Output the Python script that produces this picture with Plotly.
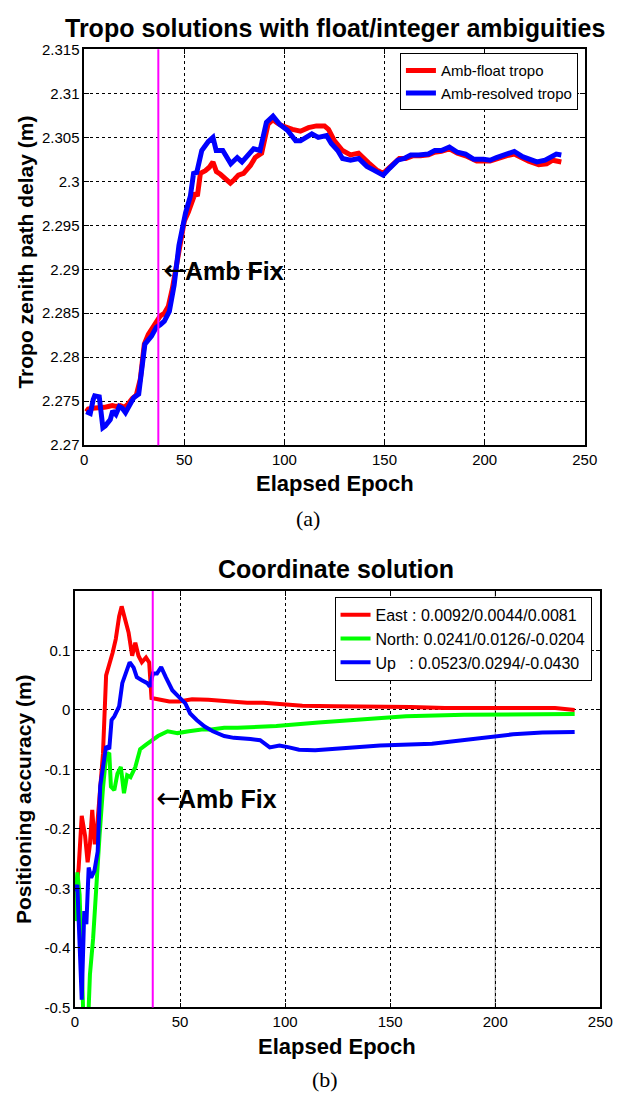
import plotly.graph_objects as go

# ---------------- data: (a) tropo ----------------
float_epoch = [1, 2, 4, 6, 8, 10, 12, 14, 16, 18, 20, 22, 24, 26, 28, 30, 32, 34, 36, 38, 40, 42, 44, 46, 48, 50,
               52, 54, 55.5, 56.5, 58, 60.5, 62.5, 64.3, 66, 68, 70, 73, 75, 77, 79.6, 83, 85.4, 88.6, 91.8, 94.3,
               96.5, 99, 104, 108, 112, 116, 120, 122, 125, 129, 133, 137, 142, 146, 149.3, 153.4, 157.4, 160.6,
               164, 168, 172, 175, 178.4, 182.4, 186.4, 190.5, 196, 202.7, 206, 210.8, 214.8, 219, 222, 227, 231,
               234, 236, 238.3]
float_tropo = [2.2738, 2.2741, 2.2742, 2.2742, 2.2742, 2.2743, 2.2744, 2.2745, 2.2744, 2.2745, 2.2743, 2.2747,
               2.2753, 2.2757, 2.2775, 2.2815, 2.2826, 2.2833, 2.2840, 2.2847, 2.2850, 2.2858, 2.2878, 2.2905,
               2.2935, 2.2955, 2.2965, 2.2980, 2.2987, 2.2983, 2.3009, 2.3012, 2.3016, 2.3022, 2.3011, 2.3008,
               2.3004, 2.2998, 2.3002, 2.3007, 2.3009, 2.3018, 2.3027, 2.3032, 2.3065, 2.3070, 2.3066, 2.3063,
               2.3059, 2.3057, 2.3061, 2.3063, 2.3063, 2.3059, 2.3046, 2.3035, 2.3030, 2.3032, 2.3021, 2.3013,
               2.3009, 2.3018, 2.3026, 2.3026, 2.3029, 2.3029, 2.3030, 2.3033, 2.3034, 2.3037, 2.3032, 2.3029,
               2.3023, 2.3023, 2.3026, 2.3029, 2.3031, 2.3026, 2.3023, 2.3019, 2.3020, 2.3024, 2.3023, 2.3022]

fixed_epoch = [1, 2, 3, 4.5, 5.2, 7.5, 8.5, 9.3, 10.5, 11.7, 13, 14.2, 15.8, 17.5, 19, 20.6, 22.5, 24.7, 27.2,
               28.5, 30.3, 33.6, 36, 38, 40, 42.5, 44.9, 47.3, 50.6, 53, 54.6, 56.2, 58.7, 61.9, 64.3, 65.9, 69.2,
               73.2, 76.4, 78.8, 82.1, 84.6, 87.8, 91, 94.3, 97.5, 101.5, 105.6, 108, 113.7, 116.9, 121, 123.4,
               126.6, 129, 133, 137.1, 141.2, 144.4, 149.3, 152.6, 156.6, 159.8, 163.1, 167.1, 171.9, 175.1, 178.4,
               182.4, 186.4, 190.5, 194.6, 199.4, 202.7, 205.9, 210.8, 214.8, 218.9, 222.1, 226.1, 230.2, 233.4,
               235.8, 238.3]
fixed_tropo = [2.2738, 2.2737, 2.2736, 2.2752, 2.2756, 2.2755, 2.2730, 2.2720, 2.2722, 2.2726, 2.2729, 2.2739,
               2.2735, 2.2744, 2.2742, 2.2737, 2.2744, 2.2754, 2.2758, 2.2780, 2.2815, 2.2824, 2.2834, 2.2837,
               2.2841, 2.2852, 2.2882, 2.2927, 2.2964, 2.2983, 2.3009, 2.3010, 2.3035, 2.3045, 2.3050, 2.3035,
               2.3035, 2.3020, 2.3027, 2.3022, 2.3030, 2.3037, 2.3035, 2.3067, 2.3074, 2.3065, 2.3058, 2.3046,
               2.3046, 2.3054, 2.3050, 2.3052, 2.3043, 2.3035, 2.3026, 2.3024, 2.3026, 2.3017, 2.3013, 2.3007,
               2.3015, 2.3024, 2.3026, 2.3030, 2.3030, 2.3031, 2.3035, 2.3035, 2.3039, 2.3033, 2.3031, 2.3025,
               2.3025, 2.3024, 2.3027, 2.3031, 2.3034, 2.3028, 2.3025, 2.3022, 2.3024, 2.3028, 2.3031, 2.3030]

# ---------------- data: (b) coordinates ----------------
east_epoch = [0, 1.7, 3.2, 4.8, 6, 7.1, 8.2, 9.4, 10.6, 11.7, 13.3, 14.8, 16.3, 17.9, 19.4, 21, 22.2, 24, 25.5,
              27.2, 28.7, 30.2, 31.8, 33.8, 35.3, 36.4, 40.3, 44.9, 49.5, 55.7, 63.4, 72.7, 81.9, 89.7, 100,
              108.2, 123.6, 145.2, 160, 176, 200.7, 228.5, 237.8]
east_err = [-0.316, -0.267, -0.178, -0.212, -0.256, -0.226, -0.168, -0.226, -0.193, -0.14, -0.074, 0.058, 0.074,
            0.096, 0.119, 0.157, 0.174, 0.147, 0.13, 0.091, 0.113, 0.091, 0.08, 0.088, 0.08, 0.02, 0.017, 0.014,
            0.014, 0.018, 0.017, 0.014, 0.012, 0.012, 0.010, 0.007, 0.006, 0.006, 0.005, 0.003, 0.003, 0.003, 0.0]

north_epoch = [0, 1.1, 2.2, 3.2, 4, 6.3, 7.1, 8.6, 10.2, 11.7, 13.3, 14.8, 16.3, 17.1, 18.7, 20.2, 21.8, 23.3,
               24.8, 26.4, 28.7, 31, 34, 36.4, 39.5, 44.1, 48.8, 54.2, 60.3, 64.8, 71, 77.3, 95.8, 115.9, 139,
               157.5, 185.3, 208.4, 237.8]
north_err = [-0.355, -0.273, -0.311, -0.46, -0.52, -0.52, -0.445, -0.385, -0.286, -0.21, -0.132, -0.077, -0.072,
             -0.129, -0.135, -0.107, -0.096, -0.14, -0.11, -0.113, -0.096, -0.066, -0.058, -0.052, -0.044, -0.036,
             -0.039, -0.036, -0.033, -0.033, -0.030, -0.030, -0.027, -0.021, -0.016, -0.0105, -0.008, -0.007,
             -0.007]

up_epoch = [0, 1.1, 2, 3.2, 4.4, 5.4, 6.5, 7.7, 9.2, 10.8, 12, 13.6, 14.8, 16.3, 17.4, 18.7, 21, 22.5, 24, 26,
            27.9, 29.4, 31.8, 34.4, 35.6, 37.1, 39, 41, 43.2, 46.3, 49.4, 52.5, 54.8, 57.9, 61.7, 65.6, 71, 75.6,
            83.5, 88.1, 92.7, 97.3, 101.9, 106.6, 114.3, 123.6, 145.2, 169.9, 194.6, 208.5, 222.4, 237.8]
up_err = [-0.305, -0.294, -0.377, -0.487, -0.338, -0.36, -0.265, -0.282, -0.271, -0.238, -0.128, -0.083, -0.061,
          -0.066, -0.017, -0.011, 0.006, 0.045, 0.061, 0.08, 0.071, 0.055, 0.05, 0.045, 0.039, 0.061, 0.061, 0.072,
          0.055, 0.033, 0.022, 0.011, -0.006, -0.017, -0.028, -0.036, -0.044, -0.047, -0.049, -0.051, -0.063,
          -0.06, -0.063, -0.067, -0.068, -0.066, -0.06, -0.057, -0.047, -0.041, -0.038, -0.037]

AMB_FIX_EPOCH = 37

x_ticks = [0, 50, 100, 150, 200, 250]
tropo_ticks = [2.27, 2.275, 2.28, 2.285, 2.29, 2.295, 2.30, 2.305, 2.31, 2.315]
tropo_ticktext = ["2.27", "2.275", "2.28", "2.285", "2.29", "2.295", "2.3", "2.305", "2.31", "2.315"]
pos_ticks = [-0.5, -0.4, -0.3, -0.2, -0.1, 0, 0.1]
pos_ticktext = ["-0.5", "-0.4", "-0.3", "-0.2", "-0.1", "0", "0.1"]

legend_a = ["Amb-float tropo", "Amb-resolved tropo"]
NB = "\u00a0"
legend_b = ["East" + NB + ":" + NB + "0.0092/0.0044/0.0081",
            "North:" + NB + "0.0241/0.0126/-0.0204",
            "Up" + NB * 3 + ":" + NB + "0.0523/0.0294/-0.0430"]

FONT = "Liberation Sans, Arial, Helvetica, sans-serif"
SERIF = "Liberation Serif, Times New Roman, serif"
W, H = 624, 1104


def px_x(p):
    return p / W


def px_y(p):
    return 1 - p / H


fig = go.Figure()

fig.add_trace(go.Scatter(x=float_epoch, y=float_tropo, mode="lines", name=legend_a[0],
                         line=dict(color="#FF0000", width=5), xaxis="x", yaxis="y", legend="legend"))
fig.add_trace(go.Scatter(x=fixed_epoch, y=fixed_tropo, mode="lines", name=legend_a[1],
                         line=dict(color="#0000FF", width=5), xaxis="x", yaxis="y", legend="legend"))

fig.add_trace(go.Scatter(x=east_epoch, y=east_err, mode="lines", name=legend_b[0],
                         line=dict(color="#FF0000", width=4), xaxis="x2", yaxis="y2", legend="legend2"))
fig.add_trace(go.Scatter(x=north_epoch, y=north_err, mode="lines", name=legend_b[1],
                         line=dict(color="#00FF00", width=4), xaxis="x2", yaxis="y2", legend="legend2"))
fig.add_trace(go.Scatter(x=up_epoch, y=up_err, mode="lines", name=legend_b[2],
                         line=dict(color="#0000FF", width=4), xaxis="x2", yaxis="y2", legend="legend2"))

axis_common = dict(
    ticks="inside", ticklen=5, tickwidth=1, tickcolor="black",
    showline=True, linecolor="black", linewidth=1.5, mirror="ticks",
    showgrid=True, gridcolor="black", griddash="dot", gridwidth=1,
    zeroline=False, tickfont=dict(family=FONT, size=15, color="black"),
)

fig.update_layout(
    width=W, height=H,
    margin=dict(l=0, r=0, t=0, b=0),
    paper_bgcolor="white", plot_bgcolor="white",
    font=dict(family=FONT, color="black"),
    xaxis=dict(domain=[px_x(82.5), px_x(597)], range=[0, 250], tickvals=x_ticks, anchor="y", **axis_common),
    yaxis=dict(domain=[px_y(443), px_y(41)], range=[2.27, 2.315], tickvals=tropo_ticks,
               ticktext=tropo_ticktext, anchor="x", **axis_common),
    xaxis2=dict(domain=[px_x(73), px_x(613)], range=[0, 250], tickvals=x_ticks, anchor="y2", **axis_common),
    yaxis2=dict(domain=[px_y(1014), px_y(591)], range=[-0.5, 0.2], tickvals=pos_ticks,
                ticktext=pos_ticktext, anchor="x2", **axis_common),
    legend=dict(x=px_x(590), y=px_y(45), xanchor="right", yanchor="top", bgcolor="white",
                bordercolor="black", borderwidth=1, font=dict(family=FONT, size=15, color="black"),
                tracegroupgap=0),
    legend2=dict(x=px_x(604), y=px_y(597), xanchor="right", yanchor="top", bgcolor="white",
                 bordercolor="black", borderwidth=1, font=dict(family=FONT, size=16, color="black"),
                 tracegroupgap=0),
    showlegend=True,
)

# Amb fix vertical lines
for xr, yr in (("x", "y"), ("x2", "y2")):
    fig.add_shape(type="line", xref=xr, yref=yr + " domain", x0=AMB_FIX_EPOCH, x1=AMB_FIX_EPOCH, y0=0, y1=1,
                  line=dict(color="#FF00FF", width=2), layer="above")

# solid grey grid line at 200 in (b)
fig.add_shape(type="line", xref="x2", yref="y2 domain", x0=200, x1=200, y0=0, y1=1,
              line=dict(color="#888888", width=1), layer="below")

ann = []
# "<- Amb Fix" labels
for arrow_x, text_x, yc in ((161, 184, 266), (154, 177, 802)):
    ann.append(dict(text="\u2190", x=px_x(arrow_x), y=px_y(yc - 1), xref="paper", yref="paper",
                    xanchor="left", yanchor="middle", showarrow=False,
                    font=dict(family="DejaVu Sans", size=29)))
    ann.append(dict(text="<b>Amb Fix</b>", x=px_x(text_x), y=px_y(yc), xref="paper", yref="paper",
                    xanchor="left", yanchor="middle", showarrow=False, font=dict(family=FONT, size=25)))
# titles
ann.append(dict(text="<b>Tropo solutions with float/integer ambiguities</b>", x=px_x(340), y=px_y(19),
                xref="paper", yref="paper", xanchor="center", yanchor="middle", showarrow=False,
                font=dict(family=FONT, size=25)))
ann.append(dict(text="<b>Coordinate solution</b>", x=px_x(341), y=px_y(569),
                xref="paper", yref="paper", xanchor="center", yanchor="middle", showarrow=False,
                font=dict(family=FONT, size=25)))
# axis titles
for yc, xc in ((482, 340), (1054, 342)):
    ann.append(dict(text="<b>Elapsed Epoch</b>", x=px_x(xc), y=px_y(yc), xref="paper", yref="paper",
                    xanchor="center", yanchor="middle", showarrow=False, font=dict(family=FONT, size=22)))
ann.append(dict(text="<b>Tropo zenith path delay (m)</b>", x=px_x(22), y=px_y(247), xref="paper", yref="paper",
                xanchor="center", yanchor="middle", textangle=-90, showarrow=False,
                font=dict(family=FONT, size=21)))
ann.append(dict(text="<b>Positioning accuracy (m)</b>", x=px_x(20), y=px_y(802), xref="paper", yref="paper",
                xanchor="center", yanchor="middle", textangle=-90, showarrow=False,
                font=dict(family=FONT, size=21)))
# captions
ann.append(dict(text="(a)", x=px_x(312), y=px_y(517), xref="paper", yref="paper", xanchor="center",
                yanchor="middle", showarrow=False, font=dict(family=SERIF, size=22)))
ann.append(dict(text="(b)", x=px_x(330), y=px_y(1087), xref="paper", yref="paper", xanchor="center",
                yanchor="middle", showarrow=False, font=dict(family=SERIF, size=22)))
fig.update_layout(annotations=ann)

fig.write_html("out.html")
